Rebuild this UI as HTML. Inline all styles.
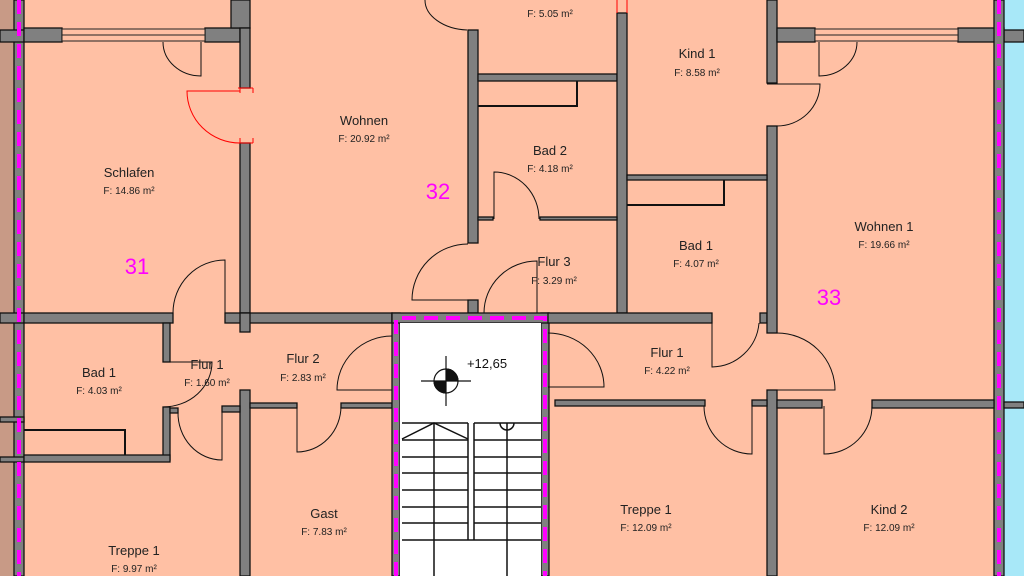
<!DOCTYPE html>
<html><head><meta charset="utf-8"><style>
html,body{margin:0;padding:0;background:#fff}
svg{display:block}
text{font-family:"Liberation Sans",sans-serif;fill:#222;text-anchor:middle}
.n{font-size:13px}
.f{font-size:10px}
.m{font-size:22px;fill:#ff00ff}
</style></head><body>
<svg width="1024" height="576" viewBox="0 0 1024 576" xmlns="http://www.w3.org/2000/svg">
<rect x="0" y="0" width="1024" height="576" fill="#ffc0a4"/>
<rect x="0" y="0" width="14" height="576" fill="#c89a86"/>
<rect x="1004" y="0" width="20" height="576" fill="#a8e8f8"/>
<g fill="#808080" stroke="#111" stroke-width="1.3">
<rect x="14" y="0" width="10" height="576"/>
<rect x="0" y="30" width="24" height="12"/>
<rect x="0" y="313" width="24" height="10"/>
<rect x="0" y="417" width="24" height="5"/>
<rect x="0" y="457" width="24" height="5"/>
<rect x="24" y="28" width="38" height="14"/>
<rect x="205" y="28" width="35" height="14"/>
<rect x="231" y="0" width="19" height="28"/>
<rect x="240" y="28" width="10" height="60"/>
<rect x="240" y="143" width="10" height="170"/>
<rect x="468" y="30" width="10" height="213"/>
<rect x="468" y="300" width="10" height="13"/>
<rect x="478" y="74" width="139" height="7"/>
<rect x="617" y="13" width="10" height="300"/>
<rect x="478" y="217" width="15" height="3"/>
<rect x="540" y="217" width="77" height="3"/>
<rect x="24" y="313" width="149" height="10"/>
<rect x="225" y="313" width="167" height="10"/>
<rect x="240" y="313" width="10" height="19"/>
<rect x="163" y="323" width="7" height="39"/>
<rect x="163" y="407" width="7" height="53"/>
<rect x="170" y="408" width="8" height="5"/>
<rect x="24" y="455" width="146" height="7"/>
<rect x="240" y="390" width="10" height="186"/>
<rect x="222" y="406" width="18" height="6"/>
<rect x="250" y="403" width="47" height="5"/>
<rect x="341" y="403" width="51" height="5"/>
<rect x="392" y="313" width="8" height="263"/>
<rect x="541" y="313" width="8" height="263"/>
<rect x="392" y="313" width="157" height="10"/>
<rect x="548" y="313" width="164" height="10"/>
<rect x="760" y="313" width="7" height="10"/>
<rect x="767" y="0" width="10" height="83"/>
<rect x="767" y="126" width="10" height="207"/>
<rect x="767" y="390" width="10" height="186"/>
<rect x="627" y="175" width="140" height="5"/>
<rect x="777" y="28" width="38" height="14"/>
<rect x="958" y="28" width="46" height="14"/>
<rect x="1004" y="30" width="20" height="12"/>
<rect x="994" y="0" width="10" height="576"/>
<rect x="555" y="400" width="150" height="6"/>
<rect x="752" y="400" width="15" height="6"/>
<rect x="777" y="400" width="45" height="8"/>
<rect x="872" y="400" width="122" height="8"/>
<rect x="1004" y="402" width="20" height="6"/>
</g>
<g fill="#ffc0a4" stroke="#222" stroke-width="1">
<rect x="62" y="29" width="143" height="12"/>
<line x1="62" y1="35" x2="205" y2="35"/>
<rect x="815" y="29" width="143" height="12"/>
<line x1="815" y1="35" x2="958" y2="35"/>
</g>
<g fill="none" stroke="#111" stroke-width="2">
<path d="M478,106 H577 V81"/>
<path d="M627,205 H724 V180"/>
<path d="M24,430 H125 V455"/>
</g>
<rect x="400" y="323" width="141" height="253" fill="#fff"/>
<g stroke="#111" stroke-width="1.5" fill="none">
<line x1="402" y1="423" x2="468" y2="423"/><line x1="474" y1="423" x2="541" y2="423"/>
<line x1="468" y1="423" x2="468" y2="540"/><line x1="474" y1="423" x2="474" y2="540"/>
<line x1="434" y1="423" x2="434" y2="576"/><line x1="507" y1="423" x2="507" y2="576"/>
<line x1="402" y1="440" x2="468" y2="440"/><line x1="474" y1="440" x2="541" y2="440"/>
<line x1="402" y1="457" x2="468" y2="457"/><line x1="474" y1="457" x2="541" y2="457"/>
<line x1="402" y1="473" x2="468" y2="473"/><line x1="474" y1="473" x2="541" y2="473"/>
<line x1="402" y1="490" x2="468" y2="490"/><line x1="474" y1="490" x2="541" y2="490"/>
<line x1="402" y1="507" x2="468" y2="507"/><line x1="474" y1="507" x2="541" y2="507"/>
<line x1="402" y1="523" x2="468" y2="523"/><line x1="474" y1="523" x2="541" y2="523"/>
<line x1="402" y1="540" x2="541" y2="540"/>
<path d="M402,439 L434,423 L468,439"/>
<path d="M500,423 A7,7 0 0 0 514,423"/>
</g>
<g stroke="#111" stroke-width="1.2">
<line x1="421" y1="381" x2="471" y2="381"/><line x1="446" y1="356" x2="446" y2="406"/>
<circle cx="446" cy="381" r="12" fill="#fff"/>
<path d="M446,381 V369 A12,12 0 0 1 458,381 Z" fill="#111"/>
<path d="M446,381 V393 A12,12 0 0 1 434,381 Z" fill="#111"/>
</g>
<g stroke="#ff00ff" stroke-width="4" fill="none" stroke-dasharray="14,8">
<line x1="19" y1="0" x2="19" y2="576"/>
<line x1="999" y1="0" x2="999" y2="576"/>
<path d="M396,576 V318 H545 V576"/>
</g>
<g fill="none" stroke="#111" stroke-width="1">
<path d="M201,42 V76 A38,34 0 0 1 163,42"/>
<path d="M425,0 A45,30 0 0 0 467,30"/>
<path d="M468,300 L412,300 A56,56 0 0 1 468,244"/>
<path d="M494,219 L494,172 A45,47 0 0 1 539,219"/>
<path d="M537,313 L537,261 A53,52 0 0 0 484,313"/>
<path d="M819,42 L819,76 A38,34 0 0 0 857,42"/>
<path d="M767,84 L820,84 A43,42 0 0 1 777,126"/>
<path d="M712,323 L712,367 A48,48 0 0 0 759,323"/>
<path d="M767,390 L835,390 A58,57 0 0 0 777,333"/>
<path d="M548,387 L604,387 A56,54 0 0 0 548,333"/>
<path d="M752,406 L752,454 A48,48 0 0 1 704,406"/>
<path d="M824,406 L824,454 A48,48 0 0 0 872,406"/>
<path d="M392,390 L337,390 A55,54 0 0 1 392,336"/>
<path d="M297,406 L297,452 A44,46 0 0 0 341,406"/>
<path d="M163,362 L212,362 A49,45 0 0 1 163,407"/>
<path d="M222,412 L222,460 A44,47 0 0 1 178,412"/>
<path d="M225,313 L225,260 A52,53 0 0 0 173,313"/>
</g>
<g fill="none" stroke="#ff0000" stroke-width="1">
<path d="M240,91 L187,91 A53,52 0 0 0 240,143"/>
<path d="M238,88 H253 M238,143 H253 M240,88 V93 M253,88 V93 M240,143 V138 M253,143 V138"/>
<path d="M617,0 V13 M627,0 V13"/>
</g>
<text class="n" x="550" y="-1">Küche</text>
<text class="f" x="550" y="17">F:  5.05 m²</text>
<text class="n" x="697" y="58">Kind 1</text><text class="f" x="697" y="76">F:  8.58 m²</text>
<text class="n" x="364" y="125">Wohnen</text><text class="f" x="364" y="142">F:  20.92 m²</text>
<text class="n" x="550" y="155">Bad 2</text><text class="f" x="550" y="172">F:  4.18 m²</text>
<text class="n" x="129" y="177">Schlafen</text><text class="f" x="129" y="194">F:  14.86 m²</text>
<text class="m" x="438" y="199">32</text>
<text class="n" x="884" y="231">Wohnen 1</text><text class="f" x="884" y="248">F:  19.66 m²</text>
<text class="n" x="696" y="250">Bad 1</text><text class="f" x="696" y="267">F:  4.07 m²</text>
<text class="n" x="554" y="266">Flur 3</text><text class="f" x="554" y="284">F:  3.29 m²</text>
<text class="m" x="137" y="274">31</text>
<text class="m" x="829" y="305">33</text>
<text class="n" x="99" y="377">Bad 1</text><text class="f" x="99" y="394">F:  4.03 m²</text>
<text class="n" x="207" y="369">Flur 1</text><text class="f" x="207" y="386">F:  1.60 m²</text>
<text class="n" x="303" y="363">Flur 2</text><text class="f" x="303" y="381">F:  2.83 m²</text>
<text x="487" y="368" style="font-size:13px;fill:#111">+12,65</text>
<text class="n" x="667" y="357">Flur 1</text><text class="f" x="667" y="374">F:  4.22 m²</text>
<text class="n" x="324" y="518">Gast</text><text class="f" x="324" y="535">F:  7.83 m²</text>
<text class="n" x="646" y="514">Treppe 1</text><text class="f" x="646" y="531">F:  12.09 m²</text>
<text class="n" x="889" y="514">Kind 2</text><text class="f" x="889" y="531">F:  12.09 m²</text>
<text class="n" x="134" y="555">Treppe 1</text><text class="f" x="134" y="572">F:  9.97 m²</text>
</svg>
</body></html>
